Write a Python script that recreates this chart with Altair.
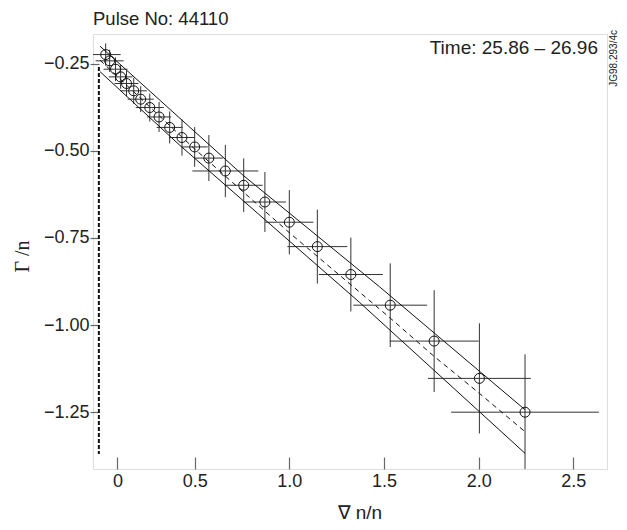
import altair as alt
import pandas as pd

# ---- data ----
x_vals = [0.030, 0.051, 0.082, 0.109, 0.140, 0.178, 0.215, 0.263, 0.312, 0.368, 0.433, 0.500,
          0.575, 0.662, 0.759, 0.871, 1.000, 1.148, 1.325, 1.533, 1.765, 2.004, 2.245]
y_vals = [-0.224, -0.242, -0.266, -0.288, -0.307, -0.328, -0.352, -0.376, -0.403, -0.433, -0.462, -0.489,
          -0.521, -0.558, -0.599, -0.647, -0.705, -0.775, -0.855, -0.943, -1.046, -1.153, -1.250]
x_err = [0.079, 0.074, 0.063, 0.063, 0.063, 0.069, 0.069, 0.074, 0.063, 0.069, 0.069, 0.069,
         0.074, 0.174, 0.100, 0.111, 0.127, 0.158, 0.169, 0.195, 0.235, 0.272, 0.390]
y_err = [0.032, 0.032, 0.034, 0.034, 0.037, 0.037, 0.037, 0.040, 0.043, 0.046, 0.052, 0.057,
         0.066, 0.075, 0.077, 0.086, 0.092, 0.106, 0.106, 0.120, 0.146, 0.158, 0.166]

upper_x = [0.0, 0.755, 1.476, 2.245]
upper_y = [-0.200, -0.570, -0.890, -1.243]
lower_x = [0.0, 0.421, 1.371, 2.245]
lower_y = [-0.273, -0.484, -0.935, -1.368]
mid_x = [0.0, 0.5, 1.0, 1.533, 1.765, 2.004, 2.245]
mid_y = [-0.240, -0.495, -0.735, -0.980, -1.090, -1.196, -1.306]
vline_x = [-0.006, -0.006]
vline_y = [-0.26, -1.37]

x_ticks = [0.092, 0.5, 1.0, 1.5, 2.0, 2.5]
y_ticks = [-1.25, -1.0, -0.75, -0.5, -0.25]

x_domain = [-0.037, 2.678]
y_domain = [-1.413, -0.165]

title_text = "Pulse No: 44110"
time_text = "Time: 25.86 \u2013 26.96"
code_text = "JG98.293/4c"

W, H = 514, 435
FONT = "Liberation Sans"

pts = pd.DataFrame({"x": x_vals, "y": y_vals, "xe": x_err, "ye": y_err})
pts["xlo"] = pts.x - pts.xe
pts["xhi"] = pts.x + pts.xe
pts["ylo"] = pts.y - pts.ye
pts["yhi"] = pts.y + pts.ye

lines = pd.concat([
    pd.DataFrame({"x": upper_x, "y": upper_y, "k": "upper"}),
    pd.DataFrame({"x": lower_x, "y": lower_y, "k": "lower"}),
])
mid = pd.DataFrame({"x": mid_x, "y": mid_y})
vline = pd.DataFrame({"x": vline_x, "y": vline_y})

label_expr = "datum.value < 0.2 ? '0' : format(datum.value, '.1f')"

xs = alt.Scale(domain=x_domain, nice=False, zero=False)
ys = alt.Scale(domain=y_domain, nice=False, zero=False)

x_axis = alt.Axis(values=x_ticks, labelExpr=label_expr, title="\u2207 n/n",
                  offset=-12, tickSize=12, domain=False, grid=False,
                  tickColor="#666666", tickWidth=1.2,
                  labelFont=FONT, labelFontSize=18, labelColor="#222222", labelPadding=3,
                  titleFont=FONT, titleFontSize=19, titleFontWeight="normal", titleColor="#222222",
                  titleX=244, titleY=61, titleBaseline="alphabetic", titleAnchor="start")
y_axis = alt.Axis(values=y_ticks, format=".2f", title="\u0393 /n",
                  offset=-6, tickSize=9, domain=False, grid=False,
                  tickColor="#666666", tickWidth=1.2,
                  labelFont=FONT, labelFontSize=18, labelColor="#222222", labelPadding=1,
                  titleFont="Liberation Serif", titleFontSize=20, titleFontWeight="normal",
                  titleColor="#222222", titleX=-71, titleY=222, titleAngle=270,
                  titleBaseline="alphabetic", titleAlign="center")

base = alt.Chart(pts)

xbars = base.mark_rule(color="#333333", strokeWidth=1, clip=True).encode(
    x=alt.X("xlo:Q", scale=xs, axis=x_axis), x2="xhi:Q",
    y=alt.Y("y:Q", scale=ys, axis=y_axis))
ybars = base.mark_rule(color="#333333", strokeWidth=1, clip=True).encode(
    x=alt.X("x:Q", scale=xs), y=alt.Y("ylo:Q", scale=ys), y2="yhi:Q")
circles = base.mark_point(shape="circle", filled=False, size=100, color="#111111",
                          strokeWidth=1, opacity=1).encode(
    x=alt.X("x:Q", scale=xs), y=alt.Y("y:Q", scale=ys))

solid = alt.Chart(lines).mark_line(color="#111111", strokeWidth=1).encode(
    x=alt.X("x:Q", scale=xs), y=alt.Y("y:Q", scale=ys), detail="k:N")
dashed = alt.Chart(mid).mark_line(color="#111111", strokeWidth=1, strokeDash=[5, 4]).encode(
    x=alt.X("x:Q", scale=xs), y=alt.Y("y:Q", scale=ys))
vdash = alt.Chart(vline).mark_line(color="#111111", strokeWidth=2, strokeDash=[4, 2]).encode(
    x=alt.X("x:Q", scale=xs), y=alt.Y("y:Q", scale=ys))

title_txt = alt.Chart(pd.DataFrame({"t": [title_text]})).mark_text(
    font=FONT, fontSize=18.5, align="left", baseline="alphabetic", color="#222222").encode(
    text="t:N", x=alt.value(0), y=alt.value(-9))
time_txt = alt.Chart(pd.DataFrame({"t": [time_text]})).mark_text(
    font=FONT, fontSize=19, align="right", baseline="alphabetic", color="#222222").encode(
    text="t:N", x=alt.value(W - 9), y=alt.value(20))
jg_txt = alt.Chart(pd.DataFrame({"t": [code_text]})).mark_text(
    font=FONT, fontSize=10, align="right", baseline="middle", angle=270, color="#222222").encode(
    text="t:N", x=alt.value(W + 7), y=alt.value(-4))

chart = alt.layer(xbars, ybars, solid, dashed, vdash, circles, title_txt, time_txt, jg_txt).properties(
    width=W, height=H,
    autosize=alt.AutoSizeParams(type="none"),
    padding={"left": 85, "top": 26, "right": 12, "bottom": 53},
).configure_view(stroke="#6b6b6b", strokeWidth=1.5).configure(background="white")

chart.save("out.html", embed_options={"renderer": "svg", "actions": False})
